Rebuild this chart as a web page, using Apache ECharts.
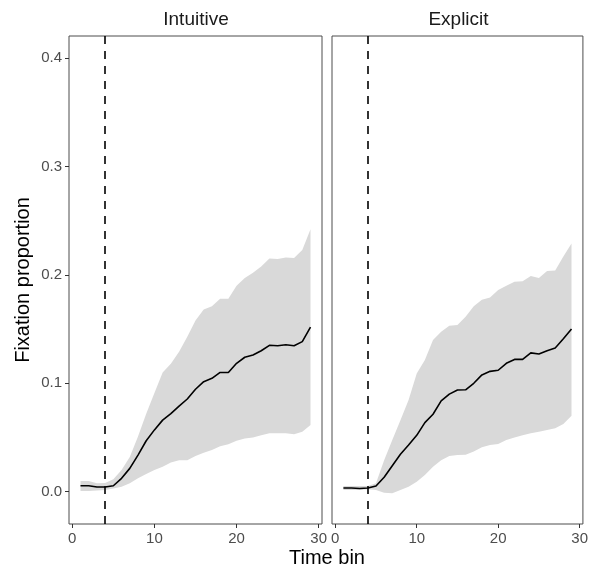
<!DOCTYPE html>
<html><head><meta charset="utf-8">
<script src="https://cdn.jsdelivr.net/npm/echarts@6/dist/echarts.min.js"></script>
<style>html,body{margin:0;padding:0;background:#fff}#c{width:591px;height:571px}</style>
</head><body><div id="c"></div>
<script>
const timeBins = [1,2,3,4,5,6,7,8,9,10,11,12,13,14,15,16,17,18,19,20,21,22,23,24,25,26,27,28,29];
const panelTitles = ['Intuitive', 'Explicit'];
const xTicks = [0, 10, 20, 30];
const yTicks = [0, 0.1, 0.2, 0.3, 0.4];
const onsetBin = 4;

const intuitiveMean  = [0.0055,0.0055,0.0043,0.0043,0.0055,0.0123,0.0215,0.0338,0.047,0.057,0.066,0.072,0.079,0.0855,0.0945,0.1015,0.1046,0.110,0.110,0.1184,0.124,0.126,0.130,0.135,0.1346,0.1355,0.1346,0.1384,0.1517];
const intuitiveUpper = [0.0099,0.0099,0.0077,0.008,0.0114,0.020,0.032,0.051,0.072,0.091,0.110,0.118,0.129,0.143,0.158,0.168,0.171,0.178,0.178,0.190,0.197,0.202,0.2076,0.215,0.2146,0.216,0.2155,0.223,0.242];
const intuitiveLower = [0.0006,0.0006,0.001,0.0016,0.003,0.0046,0.0077,0.0123,0.0163,0.020,0.023,0.027,0.029,0.029,0.033,0.036,0.0385,0.042,0.0437,0.047,0.049,0.050,0.052,0.054,0.054,0.054,0.053,0.0554,0.0615];

const explicitMean  = [0.0034,0.0034,0.003,0.0034,0.0053,0.0133,0.024,0.0345,0.043,0.052,0.0637,0.0714,0.0837,0.090,0.0938,0.094,0.100,0.1077,0.111,0.112,0.1184,0.122,0.122,0.128,0.127,0.130,0.1326,0.141,0.150];
const explicitUpper = [0.0053,0.0053,0.0053,0.0053,0.0077,0.029,0.0477,0.066,0.0846,0.109,0.1215,0.140,0.1476,0.153,0.1538,0.1614,0.171,0.177,0.179,0.186,0.190,0.1937,0.194,0.199,0.197,0.2036,0.204,0.217,0.229];
const explicitLower = [0.0016,0.0016,0.0016,0.0022,0.0016,-0.001,-0.0015,0.0016,0.0046,0.0092,0.0154,0.023,0.029,0.033,0.0338,0.034,0.037,0.041,0.043,0.044,0.0477,0.050,0.052,0.054,0.0554,0.057,0.0585,0.0625,0.070];

const panels = [
  {mean: intuitiveMean, lower: intuitiveLower, upper: intuitiveUpper},
  {mean: explicitMean, lower: explicitLower, upper: explicitUpper}
];

const FONT = 'Liberation Sans, Arial, Helvetica, sans-serif';
const grids = [
  {left: 69, top: 36, width: 253, height: 488},
  {left: 332, top: 36, width: 253, height: 488}
];

function ribbonRenderer(lower, upper) {
  return function (params, api) {
    if (params.dataIndex !== 0) return null;
    const pts = [];
    for (let k = 0; k < timeBins.length; k++) pts.push(api.coord([timeBins[k], upper[k]]));
    for (let k = timeBins.length - 1; k >= 0; k--) pts.push(api.coord([timeBins[k], lower[k]]));
    return {type: 'polygon', shape: {points: pts}, style: {fill: '#d9d9d9', stroke: null}, silent: true};
  };
}

const xAxes = [], yAxes = [], series = [];
panels.forEach((p, i) => {
  xAxes.push({
    type: 'value', gridIndex: i, min: -0.4, max: 30.4, position: 'bottom',
    axisLine: {show: false, onZero: false},
    splitLine: {show: false},
    axisTick: {show: true, length: 4, customValues: xTicks, lineStyle: {color: '#333333', width: 1}},
    axisLabel: {show: true, customValues: xTicks, margin: 7, color: '#4d4d4d', fontSize: 15, fontFamily: FONT}
  });
  yAxes.push({
    type: 'value', gridIndex: i, min: -0.0298, max: 0.4203, position: 'left',
    axisLine: {show: false, onZero: false},
    splitLine: {show: false},
    axisTick: {show: i === 0, length: 4, customValues: yTicks, lineStyle: {color: '#333333', width: 1}},
    axisLabel: {show: i === 0, customValues: yTicks, margin: 7, color: '#4d4d4d', fontSize: 15, fontFamily: FONT,
      formatter: v => v.toFixed(1)}
  });
  const ribbonData = timeBins.map((t, k) => [t, p.lower[k], p.upper[k]]);
  const meanData = timeBins.map((t, k) => [t, p.mean[k]]);
  series.push({
    type: 'custom', xAxisIndex: i, yAxisIndex: i, data: ribbonData,
    encode: {x: 0, y: [1, 2]}, silent: true, z: 1,
    renderItem: ribbonRenderer(p.lower, p.upper)
  });
  series.push({
    type: 'line', xAxisIndex: i, yAxisIndex: i, data: meanData,
    symbol: 'none', silent: true, z: 3,
    lineStyle: {color: '#000000', width: 1.6},
    markLine: {
      silent: true, symbol: ['none', 'none'], label: {show: false},
      lineStyle: {color: '#000000', width: 1.6, type: [8, 7]},
      data: [{xAxis: onsetBin}]
    }
  });
});

const chart = echarts.init(document.getElementById('c'), null, {renderer: 'canvas'});
chart.setOption({
  animation: false,
  backgroundColor: '#ffffff',
  grid: grids.map(g => Object.assign({show: true, borderColor: '#4d4d4d', borderWidth: 1, backgroundColor: 'transparent', containLabel: false}, g)),
  xAxis: xAxes,
  yAxis: yAxes,
  series: series,
  graphic: [
    {type: 'text', x: 196, y: 20, style: {text: panelTitles[0], font: '19px ' + FONT, fill: '#1a1a1a', align: 'center', verticalAlign: 'middle'}},
    {type: 'text', x: 458.5, y: 20, style: {text: panelTitles[1], font: '19px ' + FONT, fill: '#1a1a1a', align: 'center', verticalAlign: 'middle'}},
    {type: 'text', x: 327, y: 558, style: {text: 'Time bin', font: '20px ' + FONT, fill: '#000000', align: 'center', verticalAlign: 'middle'}},
    {type: 'text', x: 23, y: 280, rotation: Math.PI / 2, style: {text: 'Fixation proportion', font: '20px ' + FONT, fill: '#000000', align: 'center', verticalAlign: 'middle'}}
  ]
});
</script></body></html>
